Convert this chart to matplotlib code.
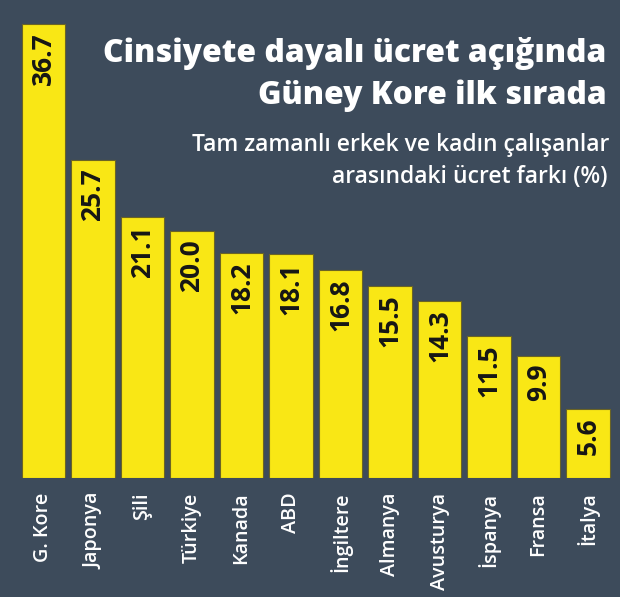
import matplotlib
matplotlib.use("Agg")
import matplotlib.pyplot as plt

categories = ["G. Kore", "Japonya", "Şili", "Türkiye", "Kanada", "ABD",
              "İngiltere", "Almanya", "Avusturya", "İspanya", "Fransa", "İtalya"]
values = [36.7, 25.7, 21.1, 20.0, 18.2, 18.1, 16.8, 15.5, 14.3, 11.5, 9.9, 5.6]
title_lines = ["Cinsiyete dayalı ücret açığında", "Güney Kore ilk sırada"]
subtitle_lines = ["Tam zamanlı erkek ve kadın çalışanlar", "arasındaki ücret farkı (%)"]

BG = "#3d4b5b"
YEL = "#f9e715"
FONT = ["Open Sans", "DejaVu Sans"]

W, H, DPI = 620, 597, 100
fig = plt.figure(figsize=(W / DPI, H / DPI), dpi=DPI, facecolor=BG)

left = 18.75 / W
right = 612.75 / W
bottom = 119 / H
height = 470 / H
ax = fig.add_axes([left, bottom, right - left, height])
ax.set_facecolor(BG)
x = list(range(len(categories)))
ax.bar(x, values, width=0.87, color=YEL, edgecolor="#6b6424", linewidth=0.8)
ax.set_xlim(-0.5, len(categories) - 0.5)
ax.set_ylim(0, 38)
for s in ax.spines.values():
    s.set_visible(False)
ax.set_yticks([])
ax.set_xticks(x)
ax.set_xticklabels(categories, rotation=90, color="white", fontsize=14.2,
                   family=FONT, fontweight="semibold", ha="center", va="top")
ax.tick_params(axis="x", length=0, pad=10.5)

for xi, v in zip(x, values):
    ax.annotate(f"{v:.1f}", xy=(xi, v), xytext=(0, -6), textcoords="offset points",
                rotation=90, ha="center", va="top", fontsize=19,
                fontweight="bold", color="#161616", family=FONT)

fig.canvas.draw()
renderer = fig.canvas.get_renderer()


def fit(texts, target_px):
    t0 = texts[0]
    w = t0.get_window_extent(renderer).width
    size = t0.get_fontsize() * target_px / w
    for t in texts:
        t.set_fontsize(size)


t1 = fig.text(606 / W, 1 - 62 / H, title_lines[0], ha="right", va="baseline",
              color="white", fontsize=26, fontweight="heavy", family=FONT)
t2 = fig.text(607 / W, 1 - 104 / H, title_lines[1], ha="right", va="baseline",
              color="white", fontsize=26, fontweight="heavy", family=FONT)
fit([t1, t2], 502)

s1 = fig.text(609 / W, 1 - 151 / H, subtitle_lines[0], ha="right", va="baseline",
              color="white", fontsize=16, fontweight="semibold", family=FONT)
s2 = fig.text(608 / W, 1 - 183 / H, subtitle_lines[1], ha="right", va="baseline",
              color="white", fontsize=16, fontweight="semibold", family=FONT)
fit([s1, s2], 420)

fig.savefig("out.png", dpi=DPI, facecolor=BG)
